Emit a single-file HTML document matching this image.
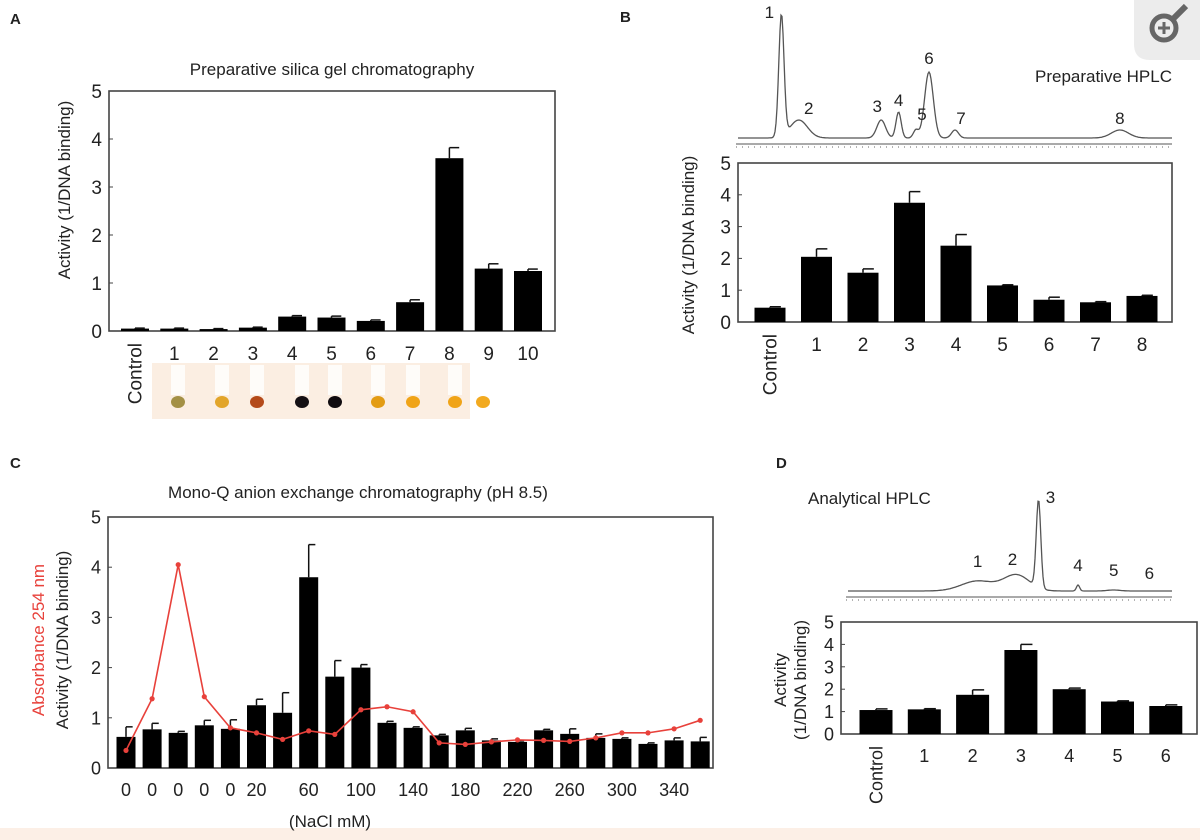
<!DOCTYPE html>
<html><head><meta charset="utf-8">
<style>
body{margin:0;background:#fff;}
svg{display:block;font-family:"Liberation Sans",Arial,sans-serif;}
text{fill:#222;}
</style></head>
<body>
<svg id="fig" width="1200" height="840" viewBox="0 0 1200 840">
<rect x="0" y="0" width="1200" height="840" fill="#fff"/>
<rect x="0" y="828" width="1200" height="12" fill="#fcefe6"/>
<g>
<path d="M1134 0 H1200 V60 H1150 Q1134 60 1134 44 Z" fill="#ececec"/>
<circle cx="1164" cy="28" r="12" fill="none" stroke="#666" stroke-width="5"/>
<line x1="1173" y1="19" x2="1186" y2="6" stroke="#666" stroke-width="6"/>
<line x1="1158" y1="28" x2="1170" y2="28" stroke="#666" stroke-width="3"/>
<line x1="1164" y1="22" x2="1164" y2="34" stroke="#666" stroke-width="3"/>
</g>
<g id="gA"></g>
<g id="gB"></g>
<g id="gC"></g>
<g id="gD"></g>
</svg>
<script>
// ---- Panel A data
const catsA = ["Control","1","2","3","4","5","6","7","8","9","10"];
const valsA = [0.05,0.05,0.04,0.07,0.30,0.28,0.21,0.60,3.60,1.30,1.25];
const errA  = [0.01,0.01,0.01,0.01,0.02,0.03,0.02,0.05,0.22,0.10,0.04];
// ---- Panel B data
const catsB = ["Control","1","2","3","4","5","6","7","8"];
const valsB = [0.45,2.05,1.55,3.75,2.40,1.15,0.70,0.62,0.82];
const errB  = [0.03,0.25,0.12,0.35,0.35,0.02,0.08,0.02,0.02];
const peakLabelsB = ["1","2","3","4","5","6","7","8"];
const peakPosB = [0.10,0.14,0.33,0.37,0.41,0.44,0.50,0.88];   // fraction of trace width
const peakHtB  = [122,18,18,26,8,66,8,8];
const peakWB   = [0.006,0.02,0.010,0.006,0.006,0.010,0.008,0.02];
// ---- Panel C data
const labelsC = ["0","0","0","0","0","20","40","60","80","100","120","140","160","180","200","220","240","260","280","300","320","340","360"];
const valsC = [0.62,0.77,0.70,0.85,0.78,1.25,1.10,3.80,1.82,2.00,0.90,0.80,0.65,0.75,0.55,0.52,0.75,0.68,0.60,0.58,0.48,0.55,0.53];
const errC  = [0.20,0.12,0.03,0.10,0.18,0.12,0.40,0.65,0.32,0.06,0.03,0.02,0.02,0.04,0.03,0.02,0.02,0.10,0.08,0.02,0.02,0.05,0.08];
const absC  = [0.35,1.38,4.05,1.42,0.80,0.70,0.57,0.74,0.67,1.16,1.22,1.12,0.50,0.47,0.52,0.56,0.55,0.53,0.60,0.70,0.70,0.78,0.95];
// ---- Panel D data
const catsD = ["Control","1","2","3","4","5","6"];
const valsD = [1.07,1.10,1.75,3.75,2.00,1.45,1.25];
const errD  = [0.05,0.03,0.22,0.25,0.05,0.03,0.05];
const peakLabelsD = ["1","2","3","4","5","6"];
const peakPosD = [0.40,0.52,0.588,0.71,0.82,0.93];
const peakHtD  = [10,16,88,6,1,0];
const peakWD   = [0.05,0.04,0.007,0.005,0.02,0.02];
const yTicks = [0,1,2,3,4,5];

const NS="http://www.w3.org/2000/svg";
function mk(parent,tag,attrs,txt){const e=document.createElementNS(NS,tag);for(const k in attrs)e.setAttribute(k,attrs[k]);if(txt!==undefined)e.textContent=txt;parent.appendChild(e);return e;}

function barChart(g,o){
  const y=v=>o.y0-v*(o.y0-o.y5)/5;
  const x=i=>o.x0c+i*o.step;
  const box=mk(g,"rect",{x:o.left,y:o.y5,width:o.right-o.left,height:o.y0-o.y5,fill:"none",stroke:"#444","stroke-width":1.6});
  
  
  yTicks.forEach(t=>{
    const tl=mk(g,"line",{x1:o.left,x2:o.left+4,y1:y(t),y2:y(t),stroke:"#444"});
    
    
    const tx=mk(g,"text",{x:o.left-7,y:y(t)+o.fs*0.36,"text-anchor":"end","font-size":o.fs},String(t));
    
    
  });
  o.vals.forEach((v,i)=>{
    const cx=x(i);
    const ey=y(v+o.errs[i]);
    const el=mk(g,"line",{x1:cx,x2:cx,y1:y(v),y2:ey,stroke:"#111","stroke-width":1.5});
    
    
    const ec=mk(g,"line",{x1:cx,x2:cx+o.bw*0.35,y1:ey,y2:ey,stroke:"#111","stroke-width":1.5});
    
    
    const b=mk(g,"rect",{x:cx-o.bw/2,y:y(v),width:o.bw,height:o.y0-y(v),fill:"#000"});
    
    
  });
  o.cats.forEach((c,i)=>{
    if(c==="")return;
    let t;
    if(c==="Control"){
      t=mk(g,"text",{transform:`translate(${x(i)+o.fs*0.35},${o.y0+12}) rotate(-90)`,"text-anchor":"end","font-size":o.fs},c);
    } else {
      t=mk(g,"text",{x:x(i),y:o.y0+o.fs+10,"text-anchor":"middle","font-size":o.fs},c);
    }
    
    
  });
  return {x,y};
}

function trace(g,x0,x1,base,pos,ht,w){
  let d="";
  for(let px=x0;px<=x1;px+=1){
    const f=(px-x0)/(x1-x0);
    let h=0;
    pos.forEach((p,k)=>{h+=ht[k]*Math.exp(-Math.pow((f-p)/w[k],2)/2);});
    d+=(px===x0?"M":"L")+px+" "+(base-h).toFixed(1);
  }
  const p=mk(g,"path",{d:d,fill:"none",stroke:"#555","stroke-width":1.3});
  
  
  const a=mk(g,"line",{x1:x0-2,x2:x1,y1:base+6,y2:base+6,stroke:"#555","stroke-width":1});
  
  
  const a2=mk(g,"line",{x1:x0-2,x2:x1,y1:base+9,y2:base+9,stroke:"#666","stroke-width":1,"stroke-dasharray":"1 5"});
  
  
}
function peakLabels(g,x0,x1,base,pos,ht,labs,offs){
  labs.forEach((l,k)=>{
    const px=x0+pos[k]*(x1-x0);
    const t=mk(g,"text",{x:px+offs[k][0],y:base-ht[k]+offs[k][1],"text-anchor":"middle","font-size":17},l);
    
    
  });
}

// ---- Panel A
const gA=document.getElementById('gA');
let t;
t=mk(gA,"text",{x:10,y:24,"font-size":15,"font-weight":"bold"},"A");


t=mk(gA,"text",{x:332,y:75,"text-anchor":"middle","font-size":17},"Preparative silica gel chromatography");


t=mk(gA,"text",{transform:"translate(70,190) rotate(-90)","text-anchor":"middle","font-size":17},"Activity (1/DNA binding)");


barChart(gA,{left:109,right:555,y0:331,y5:91,x0c:135,step:39.3,bw:28,fs:19,cats:catsA,vals:valsA,errs:errA});
// tube photo
const photo=mk(gA,"g",{});


mk(photo,"rect",{x:152,y:363,width:318,height:56,fill:"#fbeee2"});
const blobX=[178,222,257,302,335,378,413,455,483];
const blobC=["#a39045","#e2a52a","#b44a1a","#141014","#100c10","#e39c14","#f0a418","#f0a418","#f2aa20"];
blobX.forEach((bx,i)=>{
  mk(photo,"rect",{x:bx-7,y:365,width:14,height:30,fill:"#fff",opacity:0.8});
  mk(photo,"ellipse",{cx:bx,cy:402,rx:7,ry:6,fill:blobC[i]});
});

// ---- Panel B
const gB=document.getElementById('gB');
t=mk(gB,"text",{x:620,y:22,"font-size":15,"font-weight":"bold"},"B");


trace(gB,738,1172,138,peakPosB,peakHtB,peakWB);
peakLabelsB.forEach((l,k)=>{});
peakLabels(gB,738,1172,138,peakPosB,peakHtB,peakLabelsB,[[-12,2],[10,-6],[-4,-8],[0,-6],[6,-10],[0,-8],[6,-6],[0,-6]]);
t=mk(gB,"text",{x:1172,y:82,"text-anchor":"end","font-size":17},"Preparative HPLC");


t=mk(gB,"text",{transform:"translate(694,245) rotate(-90)","text-anchor":"middle","font-size":17},"Activity (1/DNA binding)");


barChart(gB,{left:738,right:1172,y0:322,y5:163,x0c:770,step:46.5,bw:31,fs:19,cats:catsB,vals:valsB,errs:errB});

// ---- Panel C
const gC=document.getElementById('gC');
t=mk(gC,"text",{x:10,y:468,"font-size":15,"font-weight":"bold"},"C");


t=mk(gC,"text",{x:358,y:498,"text-anchor":"middle","font-size":17},"Mono-Q anion exchange chromatography (pH 8.5)");


t=mk(gC,"text",{transform:"translate(44,640) rotate(-90)","text-anchor":"middle","font-size":17,style:"fill:#e8413b"},"Absorbance 254 nm");


t=mk(gC,"text",{transform:"translate(68,640) rotate(-90)","text-anchor":"middle","font-size":17},"Activity (1/DNA binding)");


const catsCshown=labelsC.map((l,i)=>(i<6||i%2===1)?l:"");
const axC=barChart(gC,{left:108,right:713,y0:768,y5:517,x0c:126,step:26.1,bw:19,fs:18,cats:catsCshown,vals:valsC,errs:errC});
let dC="";
absC.forEach((v,i)=>{dC+=(i?"L":"M")+axC.x(i)+" "+axC.y(v);});
const ln=mk(gC,"path",{d:dC,fill:"none",stroke:"#e8413b","stroke-width":1.6});


absC.forEach((v,i)=>{
  const c=mk(gC,"circle",{cx:axC.x(i),cy:axC.y(v),r:2.6,fill:"#e8413b"});
  
  
});
t=mk(gC,"text",{x:330,y:827,"text-anchor":"middle","font-size":17},"(NaCl mM)");



// ---- Panel D
const gD=document.getElementById('gD');
t=mk(gD,"text",{x:776,y:468,"font-size":15,"font-weight":"bold"},"D");


t=mk(gD,"text",{x:808,y:504,"font-size":17},"Analytical HPLC");


trace(gD,848,1172,591,peakPosD,peakHtD,peakWD);
peakLabels(gD,848,1172,591,peakPosD,peakHtD,peakLabelsD,[[0,-14],[-4,-10],[12,0],[0,-14],[0,-14],[0,-12]]);
t=mk(gD,"text",{transform:"translate(786,680) rotate(-90)","text-anchor":"middle","font-size":17},"Activity");


t=mk(gD,"text",{transform:"translate(806,680) rotate(-90)","text-anchor":"middle","font-size":17},"(1/DNA binding)");


barChart(gD,{left:841,right:1197,y0:734,y5:622,x0c:876,step:48.3,bw:33,fs:18,cats:catsD,vals:valsD,errs:errD});
</script>
</body></html>
